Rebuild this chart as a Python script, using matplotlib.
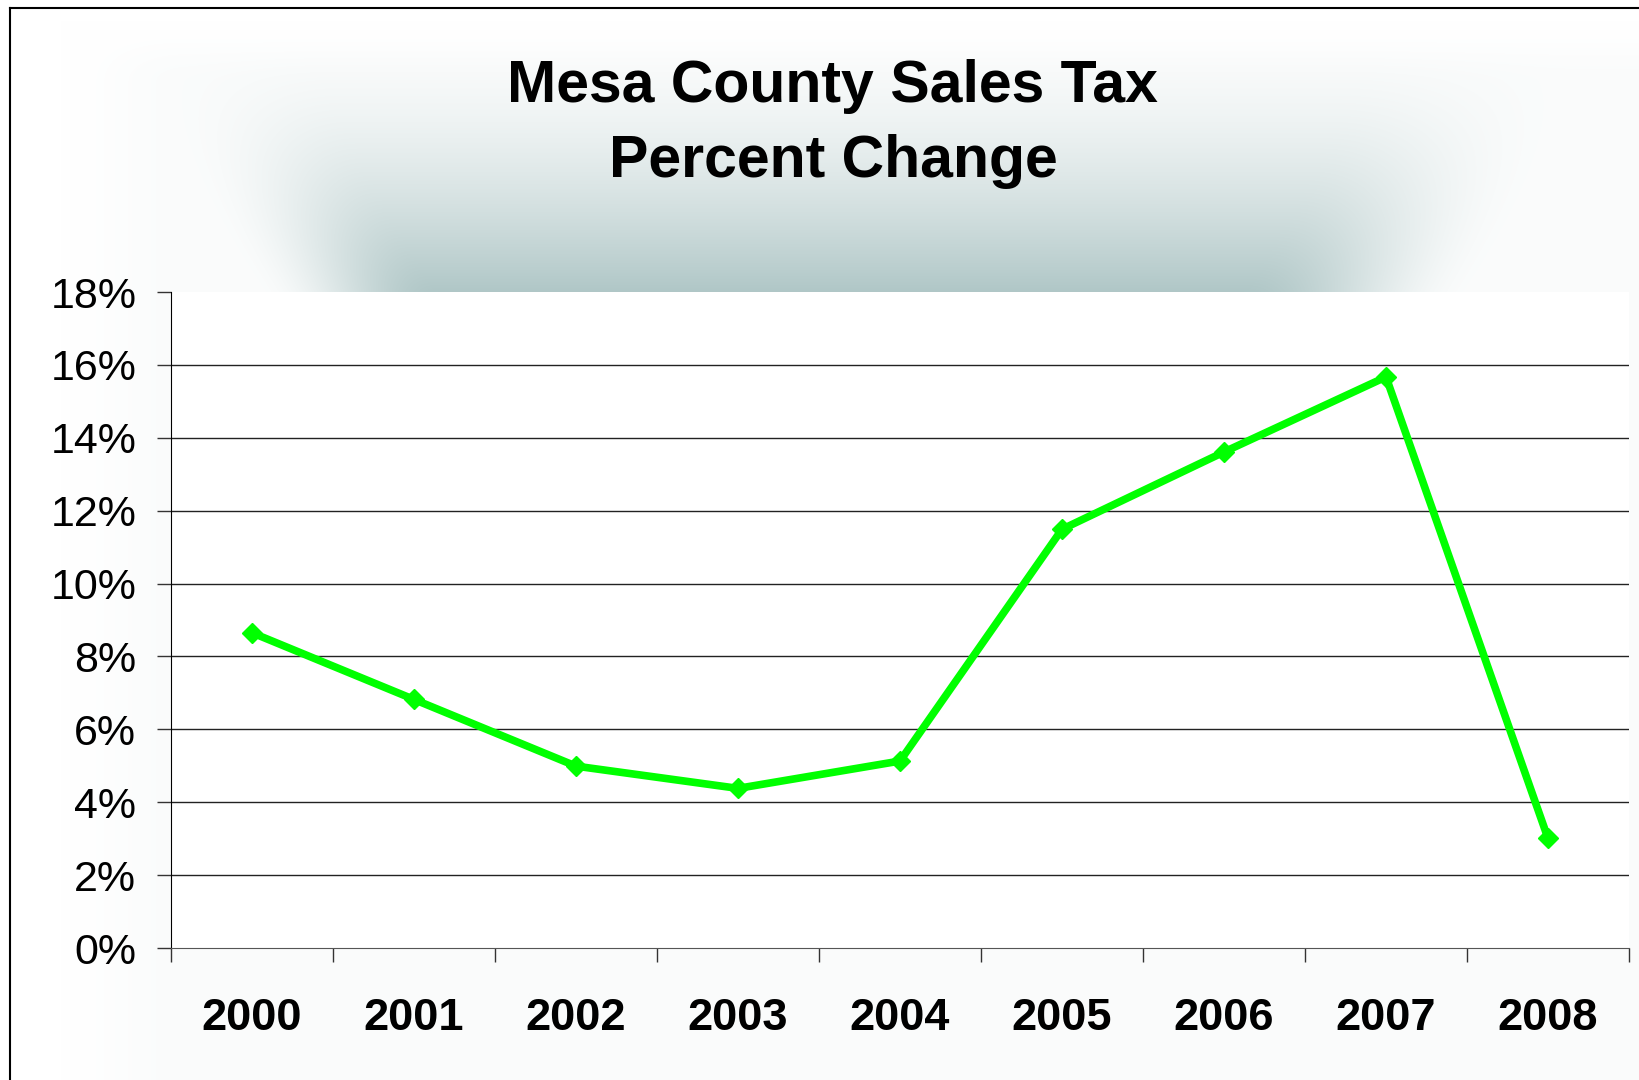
import numpy as np
import matplotlib.pyplot as plt
from matplotlib.lines import Line2D

years = ["2000", "2001", "2002", "2003", "2004", "2005", "2006", "2007", "2008"]
pct_change = [8.65, 6.82, 4.99, 4.38, 5.13, 11.49, 13.61, 15.67, 3.01]
y_ticks = [0, 2, 4, 6, 8, 10, 12, 14, 16, 18]
y_labels = ["%d%%" % v for v in y_ticks]

plt.rcParams['font.family'] = ['Liberation Sans', 'DejaVu Sans']

W, H = 1639, 1080
fig = plt.figure(figsize=(W / 100, H / 100), dpi=100, facecolor="white")

# soft shaded background behind the title
bg = fig.add_axes([0, 0, 1, 1])
bg.set_axis_off()
xx, yy = np.meshgrid(np.arange(0, W, 2), np.arange(0, H, 2))
def ramp(v, a, b):
    t = np.clip((v - a) / (b - a), 0, 1)
    return t * t * (3 - 2 * t)
base = ramp(xx, 60, 180) * ramp(yy, 20, 80) * 0.06
vy = np.clip((yy - 40) / (292 - 40), 0, 1) ** 1.6 * (yy <= 292)
hx = ramp(xx, 150 + 110 * vy, 330 + 110 * vy) * ramp(-xx, -1580 + 110 * vy, -1350 + 110 * vy)
t = np.clip(base + vy * hx * 0.95, 0, 1)
lo = np.array([1.0, 1.0, 1.0])
hi = np.array([0.69, 0.78, 0.78])
img = lo[None, None, :] * (1 - t[..., None]) + hi[None, None, :] * t[..., None]
bg.imshow(img, extent=[0, W, H, 0], aspect="auto", interpolation="bilinear")
bg.set_xlim(0, W)
bg.set_ylim(H, 0)
bg.add_line(Line2D([10, 10], [8, H], color="black", lw=1.5))
bg.add_line(Line2D([10, W], [8, 8], color="black", lw=1.5))

fig.text(833 / W, 1 - 86 / H, "Mesa County Sales Tax", ha="center", va="center",
         fontsize=42.5, fontweight="bold")
fig.text(833 / W, 1 - 161 / H, "Percent Change", ha="center", va="center",
         fontsize=42.5, fontweight="bold")

ax = fig.add_axes([171 / W, 1 - 948 / H, (1629 - 171) / W, (948 - 292) / H])
ax.set_facecolor("white")
x = np.arange(len(years))
ax.plot(x, pct_change, color="#00ff00", lw=5.5, marker="D", ms=10,
        solid_joinstyle="miter", zorder=3)

ax.set_xlim(-0.5, len(years) - 0.5)
ax.set_ylim(0, 18)
ax.set_yticks(y_ticks)
ax.set_yticklabels(y_labels, fontsize=31)
ax.set_xticks(x)
ax.set_xticklabels(years, fontsize=32.5, fontweight="bold")
ax.set_xticks(np.arange(-0.5, len(years), 1.0), minor=True)
ax.tick_params(axis="x", which="major", length=0, pad=36)
ax.tick_params(axis="x", which="minor", length=10, width=1, color="#333333")
ax.tick_params(axis="y", length=10, width=1, color="#333333", pad=15)
for v in y_ticks[1:-1]:
    ax.axhline(v, color="#222222", lw=1, zorder=1)
ax.spines["top"].set_visible(False)
ax.spines["right"].set_visible(False)
ax.spines["left"].set_color("black")
ax.spines["bottom"].set_color("#555555")

fig.savefig("out.png", dpi=100)
